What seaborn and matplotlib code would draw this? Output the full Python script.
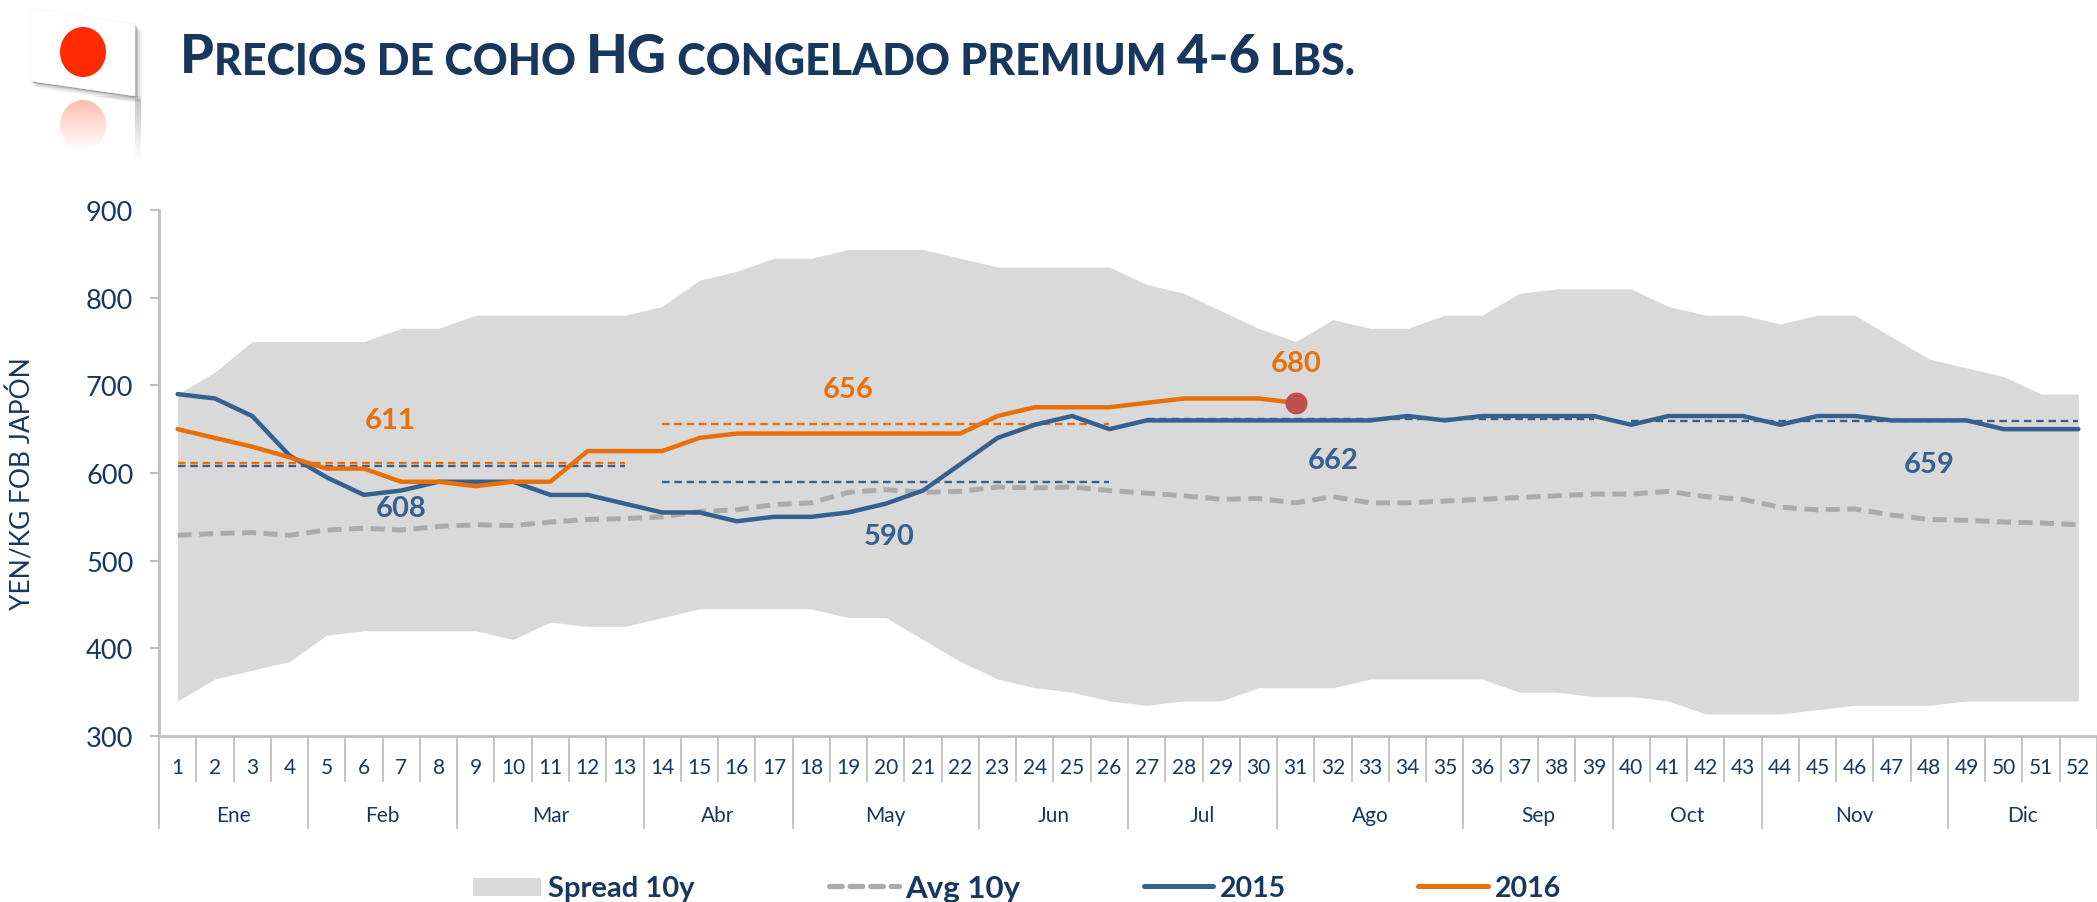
import numpy as np
import pandas as pd
import matplotlib
matplotlib.use("Agg")
import matplotlib.pyplot as plt
import seaborn as sns
from matplotlib.patches import Polygon, Ellipse, Rectangle
from matplotlib.transforms import blended_transform_factory

weeks = list(range(1, 53))
months = ["Ene", "Feb", "Mar", "Abr", "May", "Jun", "Jul", "Ago", "Sep", "Oct", "Nov", "Dic"]
month_weeks = [4, 4, 5, 4, 5, 4, 4, 5, 4, 4, 5, 4]

spread_high = [690, 715, 750, 750, 750, 750, 765, 765, 780, 780, 780, 780, 780, 790, 820, 830, 845, 845, 855, 855,
               855, 845, 835, 835, 835, 835, 815, 805, 785, 765, 750, 775, 765, 765, 780, 780, 805, 810, 810, 810,
               790, 780, 780, 770, 780, 780, 755, 730, 720, 710, 690, 690]
spread_low = [340, 365, 375, 385, 415, 420, 420, 420, 420, 410, 430, 425, 425, 435, 445, 445, 445, 445, 435, 435,
              410, 385, 365, 355, 350, 340, 335, 340, 340, 355, 355, 355, 365, 365, 365, 365, 350, 350, 345, 345,
              340, 325, 325, 325, 330, 335, 335, 335, 340, 340, 340, 340]
avg_10y = [529, 531, 532, 529, 535, 537, 535, 539, 541, 540, 544, 547, 548, 550, 556, 558, 564, 566, 578, 581,
           578, 579, 584, 583, 584, 580, 577, 574, 570, 571, 566, 573, 566, 566, 568, 570, 572, 574, 576, 576,
           579, 573, 570, 561, 558, 559, 552, 547, 546, 544, 543, 541]
y2015 = [690, 685, 665, 620, 595, 575, 580, 590, 590, 590, 575, 575, 565, 555, 555, 545, 550, 550, 555, 565,
         580, 610, 640, 655, 665, 650, 660, 660, 660, 660, 660, 660, 660, 665, 660, 665, 665, 665, 665, 655,
         665, 665, 665, 655, 665, 665, 660, 660, 660, 650, 650, 650]
y2016 = [650, 640, 630, 618, 605, 605, 590, 590, 585, 590, 590, 625, 625, 625, 640, 645, 645, 645, 645, 645,
         645, 645, 665, 675, 675, 675, 680, 685, 685, 685, 680]

# quarterly means: (first week, last week, value)
means_2015 = [(1, 13, 608), (14, 26, 590), (27, 39, 662), (40, 52, 659)]
means_2016 = [(1, 13, 611), (14, 26, 656)]
# value labels: (text, week, y)
labels_2015 = [("608", 7.0, 560), ("590", 20.1, 528), ("662", 32.0, 615), ("659", 48.0, 610)]
labels_2016 = [("611", 6.7, 661), ("656", 19.0, 696), ("680", 31.0, 725)]

title_parts = [("P", 1), ("RECIOS DE COHO ", 0), ("HG", 1), (" CONGELADO PREMIUM ", 0), ("4-6", 1), (" LBS.", 0)]
ylabel = "YEN/KG FOB JAPÓN"

NAVY = "#17375E"
BLUE = "#35608F"
ORANGE = "#E8700A"
FILL = "#D9D9D9"
DASH = "#ABABAB"
AXIS = "#BFBFBF"
W, H = 2097, 903

sns.set_theme(style="white")
plt.rcParams["font.family"] = ["Lato", "DejaVu Sans"]

fig = plt.figure(figsize=(W / 100, H / 100), dpi=100, facecolor="white")
ax = fig.add_axes([159 / W, (H - 737) / H, (W - 159) / W, (737 - 211) / H])

ax.fill_between(weeks, spread_low, spread_high, color=FILL, lw=0, zorder=1)
sns.lineplot(x=weeks, y=avg_10y, ax=ax, color=DASH, lw=3.6, dashes=(2.8, 1.5), zorder=2, errorbar=None)
for first, last, v in means_2015:
    sns.lineplot(x=[first, last], y=[v, v], ax=ax, color=BLUE, lw=1.7, dashes=(3.2, 2), zorder=3, errorbar=None)
for first, last, v in means_2016:
    sns.lineplot(x=[first, last], y=[v, v], ax=ax, color=ORANGE, lw=1.7, dashes=(3.2, 2), zorder=3, errorbar=None)
sns.lineplot(x=weeks, y=y2015, ax=ax, color=BLUE, lw=3.2, zorder=4, errorbar=None)
sns.lineplot(x=weeks[:len(y2016)], y=y2016, ax=ax, color=ORANGE, lw=3.2, zorder=5, errorbar=None)
ax.scatter([weeks[len(y2016) - 1]], [y2016[-1]], s=250, color="#C0504D", lw=0, zorder=6)

for t, x, y in labels_2015:
    ax.text(x, y, t, color=BLUE, fontsize=21, fontweight="bold", ha="center", va="center", zorder=7)
for t, x, y in labels_2016:
    ax.text(x, y, t, color=ORANGE, fontsize=21, fontweight="bold", ha="center", va="center", zorder=7)

ax.set_xlim(0.5, 52.5)
ax.set_ylim(300, 900)
ax.set_yticks(range(300, 901, 100))
ax.tick_params(axis="y", length=6.5, width=1.5, color=AXIS, labelcolor=NAVY, labelsize=19.5, pad=12, left=True)
for s in ("top", "right"):
    ax.spines[s].set_visible(False)
for s in ("left", "bottom"):
    ax.spines[s].set_color(AXIS)
    ax.spines[s].set_linewidth(2)
ax.set_xlabel("")
ax.set_ylabel("")

edges = np.cumsum([0] + month_weeks) + 0.5
ax.set_xticks(edges)
ax.set_xticklabels([])
ax.set_xticks(np.arange(0.5, 53), minor=True)
ax.tick_params(axis="x", which="major", length=93 * 0.72, width=1.3, color=AXIS, bottom=True)
ax.tick_params(axis="x", which="minor", length=46 * 0.72, width=1.3, color=AXIS, bottom=True)
tr = blended_transform_factory(ax.transData, ax.transAxes)
wk_y = -(768 - 737) / (737 - 211)
mo_y = -(816 - 737) / (737 - 211)
for w in weeks:
    ax.text(w, wk_y, str(w), transform=tr, ha="center", va="center", color=NAVY, fontsize=15)
for i, m in enumerate(months):
    ax.text((edges[i] + edges[i + 1]) / 2, mo_y, m, transform=tr, ha="center", va="center", color=NAVY, fontsize=15)

# overlay in pixel coordinates for logo, title, y label and legend
ov = fig.add_axes([0, 0, 1, 1], facecolor="none")
ov.set_xlim(0, W)
ov.set_ylim(H, 0)
ov.axis("off")

# flag logo with shadow and reflection
fade = np.zeros((64, 1, 4))
fade[..., :3] = 0.55
fade[:, 0, 3] = np.linspace(0.16, 0, 64)
ov.imshow(fade, extent=(30, 141, 165, 97), aspect="auto", zorder=0.5)
ov.add_patch(Polygon([[30, 88], [135, 103], [135, 165], [30, 165]], closed=True, fc="white", ec="none", zorder=0.6))
fade2 = np.zeros((64, 1, 4))
fade2[..., :3] = 0.45
fade2[:, 0, 3] = np.linspace(0.30, 0, 64)
ov.imshow(fade2, extent=(135, 141, 160, 100), aspect="auto", zorder=0.7)
for off, a in [(7, .06), (5, .10), (3, .18), (1.5, .30)]:
    ov.add_patch(Polygon([[30 + off, 14 + off], [135 + off, 25 + off], [135 + off, 97 + off], [30 + off, 82 + off]],
                         closed=True, fc="#404040", ec="none", alpha=a))
ov.add_patch(Polygon([[30, 9], [135, 25], [135, 97], [30, 82]], closed=True, fc="white", ec="#F2F2F2", lw=.5))
ov.add_patch(Ellipse((83, 53), 46, 50, fc="#FF2A00", ec="none"))
rgba = np.zeros((64, 1, 4))
rgba[..., :3] = matplotlib.colors.to_rgb("#FF2A00")
rgba[:, 0, 3] = np.linspace(0.32, 0, 64)
im = ov.imshow(rgba, extent=(60, 106, 151, 101), aspect="auto", zorder=3)
clip = Ellipse((83, 126), 46, 50, fc="none", ec="none")
ov.add_patch(clip)
im.set_clip_path(clip)
ov.set_xlim(0, W)
ov.set_ylim(H, 0)

# small-caps title built from chained pieces
prev = None
for txt, big in title_parts:
    size = 39 if big else 31
    if prev is None:
        prev = ov.text(180, 73, txt, color=NAVY, fontsize=size, fontweight="black", va="baseline", ha="left")
    else:
        prev = ov.annotate(txt, xy=(1, 0), xycoords=prev, xytext=(0, 0), textcoords="offset points",
                           color=NAVY, fontsize=size, fontweight="black", va="bottom", ha="left")

ov.text(22, 484, ylabel, rotation=90, color=NAVY, fontsize=19, ha="center", va="center")

# legend
ly = 889
lg = dict(color=NAVY, fontweight="bold", va="center", ha="left")
ov.add_patch(Rectangle((473, 879), 68, 18, fc=FILL, ec="none"))
ov.text(548, ly, "Spread 10y", fontsize=21, **lg)
ov.plot([829, 899], [887, 887], color=DASH, lw=3.8, dashes=(2.4, 1.5), dash_capstyle="round")
ov.text(905, ly, "Avg 10y", fontsize=22.5, **lg)
ov.plot([1144, 1213], [887, 887], color=BLUE, lw=3.6, solid_capstyle="round")
ov.text(1220, ly, "2015", fontsize=20.5, **lg)
ov.plot([1418, 1488], [887, 887], color=ORANGE, lw=3.6, solid_capstyle="round")
ov.text(1495, ly, "2016", fontsize=20.5, **lg)

fig.savefig("out.png", dpi=100, facecolor="white")
